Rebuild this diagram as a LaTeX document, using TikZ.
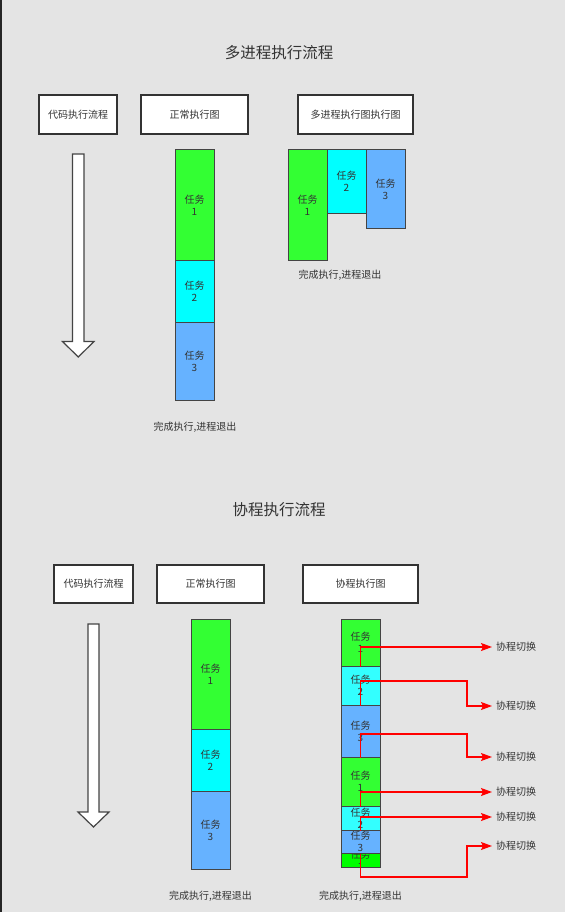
\documentclass[tikz,border=0pt]{standalone}
\usepackage{fontspec}
\setmainfont{Noto Sans CJK SC}
\usetikzlibrary{arrows.meta}
\definecolor{bg}{HTML}{E4E4E4}
\definecolor{txt}{HTML}{333333}
\definecolor{edge}{HTML}{444444}
\definecolor{tgreen}{HTML}{33FF33}
\definecolor{tgreenb}{HTML}{00FF00}
\definecolor{tcyan}{HTML}{00FFFF}
\definecolor{tcyanb}{HTML}{33FFFF}
\definecolor{tblue}{HTML}{66B2FF}
\definecolor{swred}{HTML}{FF0000}
\tikzset{
  hdr/.style={draw=txt, fill=white, line width=1.2pt, minimum height=39pt, inner sep=0pt,
    text=txt, font=\fontsize{10}{12}\selectfont},
  taskbox/.style={draw=edge, line width=1pt, minimum width=39pt, inner sep=0pt},
  tasktxt/.style={align=center, text=txt, inner sep=0pt, font=\fontsize{10}{12}\selectfont},
  lbl/.style={text=txt, inner sep=0pt, font=\fontsize{10}{12}\selectfont},
  ttl/.style={text=txt, inner sep=0pt, font=\fontsize{15.5}{18}\selectfont},
  swl/.style={draw=swred, line width=1.3pt, -{Stealth[length=11pt,width=8pt,inset=2pt]}},
  swlbl/.style={text=txt, anchor=west, inner sep=4pt, font=\fontsize{10}{12}\selectfont},
  flowarrow/.style={draw=edge, fill=white, line width=1.2pt, line join=miter},
}
\begin{document}
\begin{tikzpicture}[x=1pt,y=-1pt]
\fill[bg] (0,0) rectangle (565,912);
\useasboundingbox (0,0) rectangle (565,912);
\fill[black!85] (0,0) rectangle (2,912);

% ===== top section =====
\node[ttl] (t1) at (279,53) {多进程执行流程};
\node[hdr, minimum width=78pt] (h1) at (78,114.5) {代码执行流程};
\node[hdr, minimum width=107pt] (h2) at (194.5,114.5) {正常执行图};
\node[hdr, minimum width=115pt] (h3) at (355.5,114.5) {多进程执行图执行图};

\path[flowarrow] (72.5,154) -- (84,154) -- (84,341.5) -- (94,341.5) -- (78.25,357)
  -- (62.5,341.5) -- (72.5,341.5) -- cycle;

\node[taskbox, fill=tgreen, minimum height=110pt] (n1) at (194.5,205) {};
\node[tasktxt] at (n1) {任务\\1};
\node[taskbox, fill=tcyan, minimum height=62pt] (n2) at (194.5,291) {};
\node[tasktxt] at (n2) {任务\\2};
\node[taskbox, fill=tblue, minimum height=78pt] (n3) at (194.5,361) {};
\node[tasktxt] at (n3) {任务\\3};
\node[lbl] (done1) at (195,427) {完成执行,进程退出};

\node[taskbox, fill=tgreen, minimum height=110pt] (m1) at (307.5,205) {};
\node[tasktxt] at (m1) {任务\\1};
\node[taskbox, fill=tcyan, minimum height=63pt] (m2) at (346.5,181.5) {};
\node[tasktxt] at (m2) {任务\\2};
\node[taskbox, fill=tblue, minimum height=78pt] (m3) at (385.5,189) {};
\node[tasktxt] at (m3) {任务\\3};
\node[lbl] (done2) at (340,275) {完成执行,进程退出};

% ===== bottom section =====
\node[ttl] (t2) at (279,510) {协程执行流程};
\node[hdr, minimum width=79pt, minimum height=38pt] (g1) at (93.5,584) {代码执行流程};
\node[hdr, minimum width=107pt, minimum height=38pt] (g2) at (210.5,584) {正常执行图};
\node[hdr, minimum width=115pt, minimum height=38pt] (g3) at (360.5,584) {协程执行图};

\path[flowarrow] (88,624) -- (99,624) -- (99,812) -- (109,812) -- (93.5,827)
  -- (78,812) -- (88,812) -- cycle;

\node[taskbox, fill=tgreen, minimum height=110pt] (p1) at (210.5,674) {};
\node[tasktxt] at (p1) {任务\\1};
\node[taskbox, fill=tcyan, minimum height=62pt] (p2) at (210.5,760) {};
\node[tasktxt] at (p2) {任务\\2};
\node[taskbox, fill=tblue, minimum height=78pt] (p3) at (210.5,830) {};
\node[tasktxt] at (p3) {任务\\3};
\node[lbl] (done3) at (210.5,896) {完成执行,进程退出};

% coroutine stack, drawn from the bottom up
\node[taskbox, fill=tgreenb, minimum height=14pt] (c7) at (360.5,860) {};
\begin{scope}
  \clip (c7.north west) rectangle (c7.south east);
  \node[tasktxt] at (c7) {任务\\1};
\end{scope}
\node[taskbox, fill=tblue, minimum height=23pt] (c6) at (360.5,841.5) {};
\node[tasktxt] at (c6) {任务\\3};
\node[taskbox, fill=tcyanb, minimum height=24pt] (c5) at (360.5,818) {};
\node[tasktxt] at (c5) {任务\\2};
\node[taskbox, fill=tgreen, minimum height=49pt] (c4) at (360.5,781.5) {};
\node[tasktxt] at (c4) {任务\\1};
\node[taskbox, fill=tblue, minimum height=52pt] (c3) at (360.5,731) {};
\node[tasktxt] at (c3) {任务\\3};
\node[taskbox, fill=tcyanb, minimum height=39pt] (c2) at (360.5,685.5) {};
\node[tasktxt] at (c2) {任务\\2};
\node[taskbox, fill=tgreen, minimum height=47pt] (c1) at (360.5,642.5) {};
\node[tasktxt] at (c1) {任务\\1};
\node[lbl] (done4) at (360.5,896) {完成执行,进程退出};

% switch labels
\node[swlbl] (s1) at (492,647) {协程切换};
\node[swlbl] (s2) at (492,706) {协程切换};
\node[swlbl] (s3) at (492,757) {协程切换};
\node[swlbl] (s4) at (492,792) {协程切换};
\node[swlbl] (s5) at (492,817) {协程切换};
\node[swlbl] (s6) at (492,846) {协程切换};

\coordinate (k2) at (467,681);
\coordinate (k3) at (467,734);
\coordinate (k6) at (467,877);

\draw[swl] (c1.south) |- (s1.west);
\draw[swl] (c2.south) |- (k2) |- (s2.west);
\draw[swl] (c3.south) |- (k3) |- (s3.west);
\draw[swl] (c4.south) |- (s4.west);
\draw[swl] (c5.south) |- (s5.west);
\draw[swl] (c6.south) |- (k6) |- (s6.west);
\end{tikzpicture}
\end{document}
